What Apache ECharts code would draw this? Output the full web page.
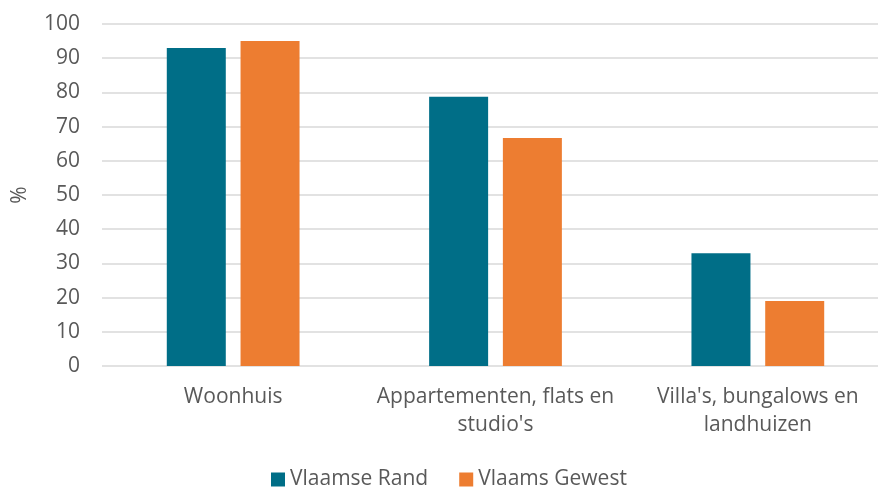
<!DOCTYPE html>
<html><head><meta charset="utf-8">
<script src="https://cdn.jsdelivr.net/npm/echarts@6/dist/echarts.min.js"></script>
<style>html,body{margin:0;padding:0;background:#fff;overflow:hidden}#c{width:878px;height:488px}</style>
</head><body><div id="c"></div>
<script>
const categories = ["Woonhuis", "Appartementen, flats en\nstudio's", "Villa's, bungalows en\nlandhuizen"];
const seriesNames = ["Vlaamse Rand", "Vlaams Gewest"];
const vlaamseRand = [93, 78.7, 33];
const vlaamsGewest = [95, 66.7, 19];
const yTicks = [0, 10, 20, 30, 40, 50, 60, 70, 80, 90, 100];

const font = "'Open Sans', 'Noto Sans', sans-serif";
const fs = 21;
const chart = echarts.init(document.getElementById('c'), null, {renderer: 'canvas'});
chart.setOption({
  animation: false,
  grid: {left: 102, top: 24, width: 787, height: 342, containLabel: false, outerBoundsMode: 'none'},
  legend: {
    data: seriesNames, top: 469, left: 271, itemWidth: 14, itemHeight: 14, itemGap: 31, padding: 0,
    icon: 'rect',
    textStyle: {fontFamily: font, fontSize: fs, color: '#595959'}
  },
  xAxis: {
    type: 'category', data: categories,
    axisLine: {show: false}, axisTick: {show: false},
    axisLabel: {fontFamily: font, fontSize: fs, color: '#595959', margin: 17, lineHeight: 28, interval: 0}
  },
  yAxis: {
    type: 'value', min: yTicks[0], max: yTicks[yTicks.length - 1], interval: 10,
    name: '%', nameLocation: 'middle', nameGap: 71, nameRotate: 90,
    nameTextStyle: {fontFamily: font, fontSize: fs, color: '#595959'},
    axisLabel: {fontFamily: font, fontSize: fs, color: '#595959', margin: 22},
    splitLine: {lineStyle: {color: '#d9d9d9', width: 1.5}},
    axisLine: {show: false}, axisTick: {show: false}
  },
  series: [
    {name: seriesNames[0], type: 'bar', data: vlaamseRand, barWidth: 59, barGap: '25%', itemStyle: {color: '#006E87'}},
    {name: seriesNames[1], type: 'bar', data: vlaamsGewest, barWidth: 59, itemStyle: {color: '#ED7D31'}}
  ]
});
</script></body></html>
